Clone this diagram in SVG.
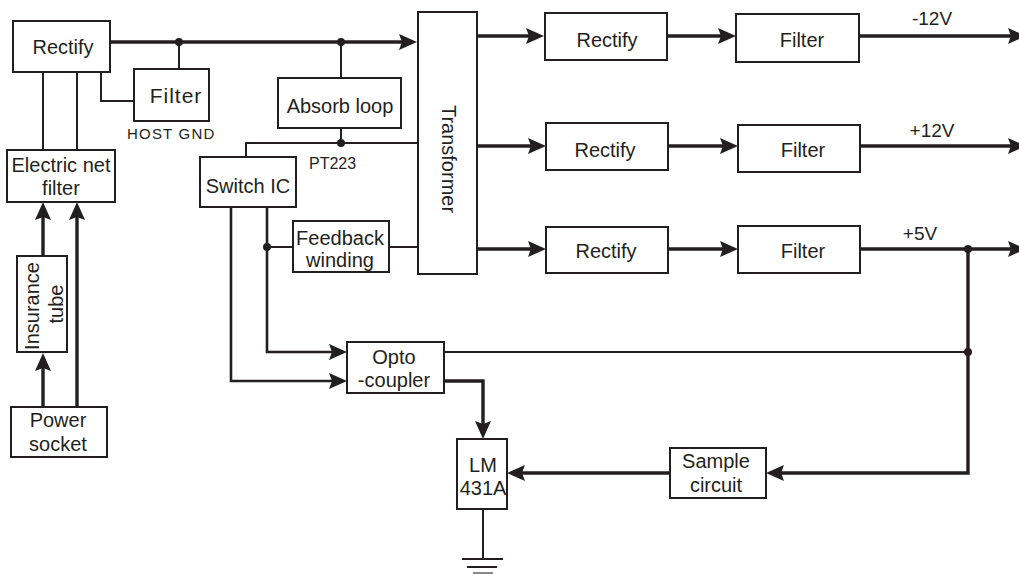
<svg xmlns="http://www.w3.org/2000/svg" width="1019" height="574" viewBox="0 0 1019 574">
<defs>
<marker id="arr" markerUnits="userSpaceOnUse" markerWidth="18" markerHeight="16" refX="6" refY="8" orient="auto" overflow="visible">
<path d="M0,0 L18,8 L0,16 L3,8 z" fill="#231f20"/>
</marker>
<style>
rect.box{fill:#fff;stroke:#231f20;stroke-width:2}
text{font-family:"Liberation Sans",Arial,sans-serif;font-size:20px;fill:#231f20}
text.c{text-anchor:middle}
text.v{font-size:19px;text-anchor:middle}
text.s{font-size:15px}
.thin{fill:none;stroke:#231f20;stroke-width:2}
.mid{fill:none;stroke:#231f20;stroke-width:2.6}
.thick{fill:none;stroke:#231f20;stroke-width:3.4}
.dot{fill:#231f20}
</style>
</defs>
<rect width="1019" height="574" fill="#fff"/>

<g id="connectors">
<path class="thick" d="M110,42 H405" marker-end="url(#arr)"/>
<path class="thin" d="M179,42 V69"/>
<path class="thin" d="M101,72 V101 H134"/>
<path class="thin" d="M43,72 V150"/>
<path class="thin" d="M77,72 V150"/>
<path class="thin" d="M341,42 V78"/>
<path class="thin" d="M341,128 V143"/>
<path class="thin" d="M246,157 V143 H418"/>
<path class="thick" d="M43,407 V365" marker-end="url(#arr)"/>
<path class="thick" d="M43,256 V214" marker-end="url(#arr)"/>
<path class="thick" d="M77,407 V214" marker-end="url(#arr)"/>
<path class="thick" d="M477,36 H532" marker-end="url(#arr)"/>
<path class="thick" d="M667,36 H724" marker-end="url(#arr)"/>
<path class="thick" d="M859,36 H1014" marker-end="url(#arr)"/>
<path class="thick" d="M477,146 H534" marker-end="url(#arr)"/>
<path class="thick" d="M668,146 H726" marker-end="url(#arr)"/>
<path class="thick" d="M860,146 H1014" marker-end="url(#arr)"/>
<path class="thick" d="M477,249 H534" marker-end="url(#arr)"/>
<path class="thick" d="M668,249 H726" marker-end="url(#arr)"/>
<path class="thick" d="M860,249 H1014" marker-end="url(#arr)"/>
<path class="thin" d="M389,247 H418"/>
<path class="thin" d="M293,247 H267"/>
<path class="mid" d="M267,207 V352 H335" marker-end="url(#arr)"/>
<path class="mid" d="M231,207 V381 H335" marker-end="url(#arr)"/>
<path class="thin" d="M444,352 H968"/>
<path class="thick" d="M444,381 H483 V427" marker-end="url(#arr)"/>
<path class="thick" d="M968,249 V473 H778" marker-end="url(#arr)"/>
<path class="thick" d="M670,473 H519" marker-end="url(#arr)"/>
<path class="thin" d="M483,509 V559"/>
<path class="thin" d="M462,559 H503"/>
<path class="thin" d="M467,567 H497"/>
<path d="M473,573 H493" stroke="#888" stroke-width="2"/>
<circle class="dot" cx="179" cy="42" r="4"/>
<circle class="dot" cx="341" cy="42" r="4"/>
<circle class="dot" cx="341" cy="143" r="4"/>
<circle class="dot" cx="267" cy="247" r="4"/>
<circle class="dot" cx="968" cy="249" r="4"/>
<circle class="dot" cx="968" cy="352" r="4"/>
</g>

<g id="rectify-in"><rect class="box" x="13" y="21" width="97" height="51"/><text class="c" x="63" y="54">Rectify</text></g>
<g id="filter-host"><rect class="box" x="134" y="69" width="75" height="52"/><text class="c" x="176" y="103" style="font-size:21px;letter-spacing:1px">Filter</text><text class="s" x="127" y="139" style="letter-spacing:1.2px">HOST GND</text></g>
<g id="electric-net-filter"><rect class="box" x="7" y="150" width="108" height="52"/><text class="c" x="61" y="172">Electric net</text><text class="c" x="61" y="195">filter</text></g>
<g id="insurance-tube"><rect class="box" x="17" y="256" width="50" height="96"/><text class="c" transform="translate(39,306) rotate(-90)">Insurance</text><text class="c" transform="translate(63,304) rotate(-90)">tube</text></g>
<g id="power-socket"><rect class="box" x="11" y="407" width="96" height="50"/><text class="c" x="58" y="427">Power</text><text class="c" x="58" y="451">socket</text></g>
<g id="absorb-loop"><rect class="box" x="278" y="78" width="123" height="50"/><text class="c" x="340" y="113">Absorb loop</text></g>
<g id="switch-ic"><rect class="box" x="200" y="157" width="96" height="50"/><text class="c" x="248" y="193">Switch IC</text><text x="309" y="169" style="font-size:16px">PT223</text></g>
<g id="transformer"><rect class="box" x="418" y="12" width="59" height="262"/><text class="c" transform="translate(442,159) rotate(90)">Transformer</text></g>
<g id="feedback-winding"><rect class="box" x="293" y="221" width="96" height="51"/><text class="c" x="340" y="245">Feedback</text><text class="c" x="340" y="267">winding</text></g>
<g id="rectify-1"><rect class="box" x="545" y="13" width="122" height="47"/><text class="c" x="607" y="47">Rectify</text></g>
<g id="filter-1"><rect class="box" x="736" y="14" width="123" height="48"/><text class="c" x="802" y="47">Filter</text><text class="v" x="932" y="25">-12V</text></g>
<g id="rectify-2"><rect class="box" x="546" y="123" width="122" height="47"/><text class="c" x="605" y="157">Rectify</text></g>
<g id="filter-2"><rect class="box" x="738" y="125" width="122" height="47"/><text class="c" x="803" y="157">Filter</text><text class="v" x="932" y="137">+12V</text></g>
<g id="rectify-3"><rect class="box" x="546" y="227" width="122" height="46"/><text class="c" x="606" y="258">Rectify</text></g>
<g id="filter-3"><rect class="box" x="738" y="226" width="122" height="47"/><text class="c" x="803" y="258">Filter</text><text class="v" x="920" y="240">+5V</text></g>
<g id="optocoupler"><rect class="box" x="347" y="342" width="97" height="51"/><text class="c" x="394" y="364">Opto</text><text class="c" x="394" y="387">-coupler</text></g>
<g id="lm431a"><rect class="box" x="457" y="439" width="50" height="70"/><text class="c" x="483" y="472">LM</text><text class="c" x="483" y="495">431A</text></g>
<g id="sample-circuit"><rect class="box" x="670" y="448" width="96" height="50"/><text class="c" x="716" y="468">Sample</text><text class="c" x="716" y="492">circuit</text></g>
</svg>
